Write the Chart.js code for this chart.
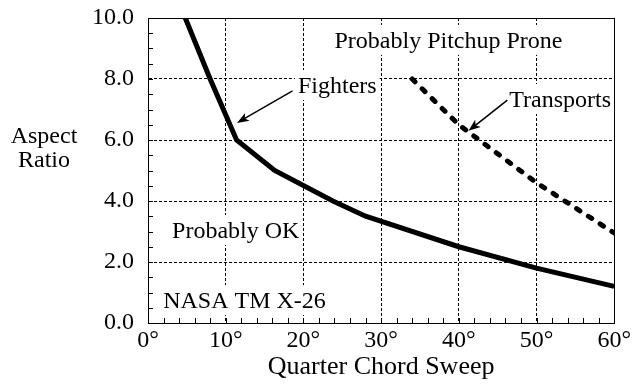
<!DOCTYPE html>
<html>
<head>
<meta charset="utf-8">
<script src="https://cdn.jsdelivr.net/npm/chart.js@4/dist/chart.umd.min.js"></script>
<style>
  html, body { margin: 0; padding: 0; background: #fff; }
  #wrap { width: 634px; height: 384px; }
</style>
</head>
<body>
<div id="wrap"><canvas id="pitchupChart" width="634" height="384"></canvas></div>
<script>
// Boundary curves: quarter chord sweep (deg) vs aspect ratio
const fighterSweep = [4.8, 8.0, 11.4, 16.3, 23.8, 28, 40, 50, 60];
const fighterAR = [10, 8, 6, 5, 4, 3.5, 2.5, 1.8, 1.2];
const transportSweep = [34, 40, 50, 60];
const transportAR = [8.0, 6.5, 4.6, 2.95];

const sweepTicks = [0, 10, 20, 30, 40, 50, 60];
const arTicks = [0, 2, 4, 6, 8, 10];

// Text notes in data units (x = left edge, y = baseline)
const notes = [
    { text: 'Probably Pitchup Prone', x: 24.0, y: 9.02 },
    { text: 'Fighters', x: 19.3, y: 7.54 },
    { text: 'Transports', x: 46.5, y: 7.08 },
    { text: 'Probably OK', x: 3.1, y: 2.79 },
    { text: 'NASA TM X-26', x: 1.95, y: 0.49 }
];
const arrows = [
    { from: [18.6, 7.61], to: [11.45, 6.56] },
    { from: [46.25, 7.31], to: [41.25, 6.3] }
];

const serif = "'Liberation Serif', 'Times New Roman', serif";

function xy(xs, ys) {
    return xs.map((x, i) => ({ x: x, y: ys[i] }));
}

const chartExtras = {
    id: 'chartExtras',
    beforeDatasetsDraw(chart) {
        const ctx = chart.ctx;
        const xs = chart.scales.x, ys = chart.scales.y;
        ctx.save();
        ctx.font = '24px ' + serif;
        ctx.textBaseline = 'alphabetic';
        ctx.textAlign = 'left';
        notes.forEach(n => {
            const px = xs.getPixelForValue(n.x);
            const py = ys.getPixelForValue(n.y);
            const w = ctx.measureText(n.text).width;
            ctx.fillStyle = '#fff';
            ctx.fillRect(px - 3, py - 23, w + 6, 30);
            ctx.fillStyle = '#000';
            ctx.fillText(n.text, px, py);
        });
        ctx.restore();
    },
    afterDraw(chart) {
        const ctx = chart.ctx;
        const area = chart.chartArea;
        const xs = chart.scales.x, ys = chart.scales.y;
        ctx.save();
        ctx.strokeStyle = '#000';
        ctx.lineWidth = 1;
        ctx.setLineDash([]);

        // frame
        ctx.strokeRect(Math.round(area.left) + 0.5, Math.round(area.top) + 0.5,
            Math.round(area.right - area.left), Math.round(area.bottom - area.top));

        // inward ticks
        ctx.beginPath();
        for (let v = 0; v <= 60; v += 2) {
            const px = Math.round(xs.getPixelForValue(v)) + 0.5;
            ctx.moveTo(px, area.bottom);
            ctx.lineTo(px, area.bottom - 5);
        }
        for (let v = 0; v <= 10; v += 0.5) {
            const py = Math.round(ys.getPixelForValue(v)) + 0.5;
            ctx.moveTo(area.left, py);
            ctx.lineTo(area.left + 5, py);
        }
        ctx.stroke();

        // arrows
        arrows.forEach(a => {
            const x1 = xs.getPixelForValue(a.from[0]), y1 = ys.getPixelForValue(a.from[1]);
            const x2 = xs.getPixelForValue(a.to[0]), y2 = ys.getPixelForValue(a.to[1]);
            const ang = Math.atan2(y2 - y1, x2 - x1);
            const c = Math.cos(ang), s = Math.sin(ang);
            ctx.lineWidth = 1.5;
            ctx.beginPath();
            ctx.moveTo(x1, y1);
            ctx.lineTo(x2 - 8 * c, y2 - 8 * s);
            ctx.stroke();
            ctx.beginPath();
            ctx.moveTo(x2, y2);
            ctx.lineTo(x2 - 12 * c + 4.5 * s, y2 - 12 * s - 4.5 * c);
            ctx.lineTo(x2 - 9 * c, y2 - 9 * s);
            ctx.lineTo(x2 - 12 * c - 4.5 * s, y2 - 12 * s + 4.5 * c);
            ctx.closePath();
            ctx.fillStyle = '#000';
            ctx.fill();
        });

        // horizontal y-axis caption
        const mid = ys.getPixelForValue(5.5);
        ctx.font = '24px ' + serif;
        ctx.fillStyle = '#000';
        ctx.textAlign = 'center';
        ctx.textBaseline = 'alphabetic';
        ctx.fillText('Aspect', 44, mid - 12);
        ctx.fillText('Ratio', 44, mid + 12);
        ctx.restore();
    }
};

document.addEventListener('DOMContentLoaded', function() {
    const el = document.getElementById('pitchupChart');
    new Chart(el, {
        type: 'line',
        data: {
            datasets: [{
                label: 'Fighters',
                data: xy(fighterSweep, fighterAR),
                borderColor: '#000',
                borderWidth: 5,
                pointRadius: 0,
                tension: 0,
                fill: false
            }, {
                label: 'Transports',
                data: xy(transportSweep, transportAR),
                borderColor: '#000',
                borderWidth: 5,
                borderDash: [4, 10],
                borderCapStyle: 'round',
                pointRadius: 0,
                tension: 0,
                fill: false
            }]
        },
        options: {
            responsive: false,
            animation: false,
            layout: {
                padding: { top: 18, right: 19, left: 0, bottom: 0 }
            },
            plugins: {
                legend: { display: false },
                tooltip: { enabled: false }
            },
            scales: {
                x: {
                    type: 'linear',
                    min: 0,
                    max: 60,
                    afterFit: scale => { scale.height = 61; },
                    afterBuildTicks: scale => { scale.ticks = sweepTicks.map(v => ({ value: v })); },
                    grid: { color: '#000', lineWidth: 1, drawTicks: false },
                    border: { display: true, color: '#000', width: 1, dash: [3, 2] },
                    ticks: {
                        color: '#000',
                        padding: 3,
                        font: { family: serif, size: 24 },
                        callback: v => v + '°'
                    },
                    title: {
                        display: true,
                        text: 'Quarter Chord Sweep',
                        color: '#000',
                        font: { family: serif, size: 26 },
                        padding: { top: 0, bottom: 1 }
                    }
                },
                y: {
                    type: 'linear',
                    min: 0,
                    max: 10,
                    afterFit: scale => {
                        scale.width = 148;
                        // keep the label padding from pushing the plot down
                        scale.paddingTop = 0;
                        scale.paddingBottom = 0;
                    },
                    afterBuildTicks: scale => { scale.ticks = arTicks.map(v => ({ value: v })); },
                    grid: { color: '#000', lineWidth: 1, drawTicks: false },
                    border: { display: true, color: '#000', width: 1, dash: [3, 2] },
                    ticks: {
                        color: '#000',
                        padding: 14,
                        font: { family: serif, size: 24 },
                        callback: v => Number(v).toFixed(1)
                    }
                }
            }
        },
        plugins: [chartExtras]
    });
});
</script>
</body>
</html>
